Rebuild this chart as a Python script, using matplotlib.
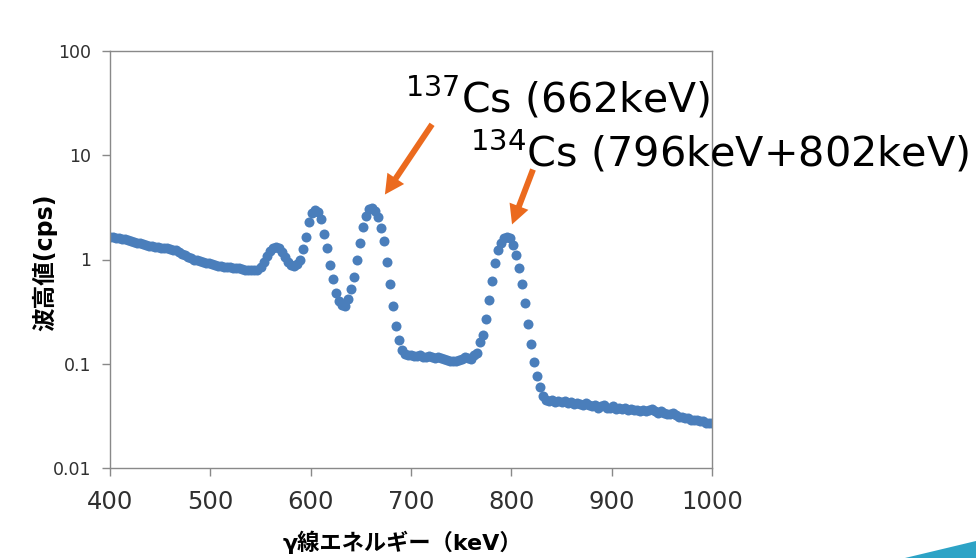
import numpy as np
import matplotlib
matplotlib.use("Agg")
import matplotlib.pyplot as plt
from matplotlib.patches import Polygon

# gamma-ray spectrum, one reading every 3 keV starting at 400 keV
start_kev = 400
step_kev = 3
cps = [
    1.65, 1.63, 1.62, 1.60, 1.58, 1.56, 1.53, 1.50, 1.47, 1.45,
    1.43, 1.40, 1.38, 1.36, 1.35, 1.33, 1.31, 1.30, 1.29, 1.28,
    1.26, 1.24, 1.22, 1.18, 1.14, 1.10, 1.06, 1.03, 1.00, 0.98,
    0.96, 0.94, 0.93, 0.92, 0.90, 0.88, 0.87, 0.86, 0.85, 0.84,
    0.84, 0.83, 0.82, 0.82, 0.81, 0.80, 0.80, 0.79, 0.79, 0.80,
    0.85, 0.95, 1.08, 1.20, 1.28, 1.32, 1.28, 1.18, 1.05, 0.95,
    0.88, 0.86, 0.90, 1.00, 1.25, 1.65, 2.30, 2.80, 3.00, 2.85,
    2.45, 1.75, 1.30, 0.88, 0.65, 0.48, 0.40, 0.37, 0.36, 0.42,
    0.52, 0.68, 0.98, 1.45, 2.05, 2.60, 3.05, 3.15, 2.95, 2.55,
    2.00, 1.50, 0.95, 0.58, 0.36, 0.23, 0.17, 0.135, 0.125, 0.122,
    0.120, 0.119, 0.118, 0.120, 0.117, 0.116, 0.118, 0.115, 0.114, 0.116,
    0.113, 0.110, 0.108, 0.106, 0.107, 0.106, 0.109, 0.110, 0.115, 0.113,
    0.112, 0.120, 0.128, 0.160, 0.190, 0.27, 0.41, 0.62, 0.93, 1.22,
    1.45, 1.60, 1.65, 1.62, 1.38, 1.10, 0.82, 0.58, 0.38, 0.24,
    0.155, 0.105, 0.076, 0.060, 0.049, 0.045,
    0.044, 0.045, 0.043, 0.044, 0.043, 0.044, 0.042, 0.043, 0.041, 0.042,
    0.041, 0.040, 0.042, 0.040, 0.039, 0.040, 0.038, 0.039, 0.040, 0.038,
    0.038, 0.039, 0.037, 0.038, 0.037, 0.038, 0.036, 0.037, 0.036, 0.036,
    0.035, 0.036, 0.035, 0.036, 0.037, 0.035, 0.034, 0.035, 0.034, 0.033,
    0.033, 0.034, 0.032, 0.031, 0.031, 0.030, 0.030, 0.029, 0.029, 0.029,
    0.028, 0.028, 0.027, 0.027, 0.027,
]
energy = start_kev + step_kev * np.arange(len(cps))

x_ticks = [400, 500, 600, 700, 800, 900, 1000]
y_ticks = [0.01, 0.1, 1, 10, 100]
y_tick_labels = ["0.01", "0.1", "1", "10", "100"]

# arrows: (tail x, tail y) -> (tip x, tip y) in data units
cs137_arrow = ((721, 19.8), (674, 4.2))
cs134_arrow = ((821.6, 7.3), (800.7, 2.17))

dot_color = "#4A7EBB"
arrow_color = "#EB6A1E"
axis_color = "#898989"

fig = plt.figure(figsize=(9.76, 5.58), dpi=100)
ax = fig.add_axes([110 / 976, 1 - 468 / 558, 602 / 976, 417 / 558])

ax.plot(energy, cps, "o", color=dot_color, markersize=7.2, markeredgewidth=0)

ax.set_yscale("log")
ax.set_xlim(400, 1000)
ax.set_ylim(0.01, 100)
ax.set_xticks(x_ticks)
ax.set_xticklabels([str(t) for t in x_ticks], fontfamily="DejaVu Sans",
                   fontsize=17.5, color="#303030")
ax.set_yticks(y_ticks)
ax.set_yticklabels(y_tick_labels, fontsize=12.5, color="#303030")
ax.yaxis.set_minor_locator(matplotlib.ticker.NullLocator())

for s in ax.spines.values():
    s.set_color(axis_color)
    s.set_linewidth(1.0)
ax.tick_params(axis="both", which="major", direction="out", color=axis_color,
               width=1.0, length=5.5)
ax.tick_params(axis="x", pad=10)
ax.tick_params(axis="y", pad=8)

ax.set_ylabel("波高値(cps)", family=["DejaVu Sans", "Noto Sans CJK JP"],
              fontweight="bold", fontsize=17)
ax.yaxis.set_label_coords(-0.088, 0.494)
ax.set_xlabel("γ線エネルギー（keV）", family=["DejaVu Sans", "Noto Sans CJK JP"],
              fontweight="bold", fontsize=16)
ax.xaxis.set_label_coords(0.485, -0.15)

for tail, tip in [cs137_arrow, cs134_arrow]:
    ax.annotate("", xy=tip, xytext=tail,
                arrowprops=dict(facecolor=arrow_color, edgecolor="none",
                                width=4.3, headwidth=14.5, headlength=14, shrink=0))

fig.text(405 / 976, 1 - 112 / 558, r"$^{137}$Cs (662keV)", fontsize=29.5,
         va="baseline", ha="left")
fig.text(470 / 976, 1 - 167 / 558, r"$^{134}$Cs (796keV+802keV)", fontsize=29.8,
         va="baseline", ha="left")

# slide decoration in the bottom right corner
swoosh = Polygon([(905 / 976, 0.0), (976 / 976, 17 / 558), (976 / 976, 0.0)],
                 closed=True, transform=fig.transFigure, color="#2DA3C6", lw=0)
fig.patches.append(swoosh)

fig.savefig("out.png", dpi=100)
